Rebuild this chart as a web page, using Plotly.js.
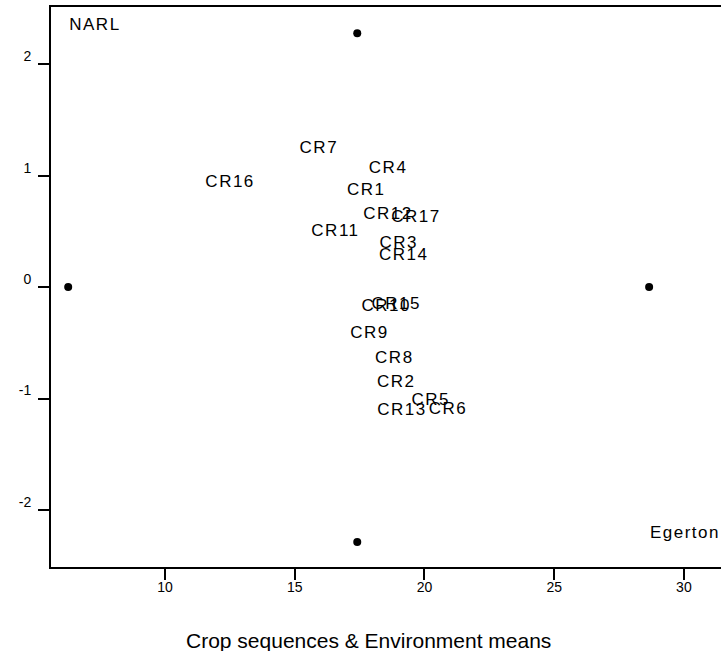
<!DOCTYPE html>
<html>
<head>
<meta charset="utf-8">
<script src="https://cdn.plot.ly/plotly-3.0.1.min.js"></script>
<style>
  html, body { margin: 0; padding: 0; background: #fff; }
  #chart { width: 721px; height: 651px; }
  .js-plotly-plot .textpoint text { letter-spacing: 1.5px; }
</style>
</head>
<body>
<div id="chart"></div>
<script>
// Crop sequence labels and their biplot positions
const cropLabels = ["CR1","CR2","CR3","CR4","CR5","CR6","CR7","CR8","CR9","CR10","CR11","CR12","CR13","CR14","CR15","CR16","CR17"];
const cropX = [17.76, 18.91, 19.01, 18.60, 20.24, 20.91, 15.93, 18.84, 17.88, 18.53, 16.57, 18.59, 19.13, 19.20, 18.91, 12.51, 19.67];
const cropY = [0.861, -0.860, 0.390, 1.064, -1.019, -1.100, 1.241, -0.645, -0.420, -0.175, 0.496, 0.648, -1.111, 0.286, -0.154, 0.935, 0.621];

// Environment labels
const envLabels = ["NARL", "Egerton"];
const envX = [7.30, 30.04];
const envY = [2.35, -2.215];

// Marker points
const dotX = [17.41, 17.41, 6.27, 28.66];
const dotY = [2.278, -2.287, 0.0, 0.0];

// Axis ticks
const xTicks = [10, 15, 20, 25, 30];
const yTicks = [-2, -1, 0, 1, 2];

const FONT = "Liberation Sans, Arial, sans-serif";

const traces = [
  {
    x: dotX, y: dotY, mode: "markers", type: "scatter",
    marker: { color: "#000", size: 8, symbol: "circle" },
    hoverinfo: "skip", showlegend: false, cliponaxis: false
  },
  {
    x: cropX, y: cropY, text: cropLabels, mode: "text", type: "scatter",
    textposition: "middle center",
    textfont: { family: FONT, size: 17, color: "#000" },
    showlegend: false, cliponaxis: false
  },
  {
    x: envX, y: envY, text: envLabels, mode: "text", type: "scatter",
    textposition: "middle center",
    textfont: { family: FONT, size: 17, color: "#000" },
    showlegend: false, cliponaxis: false
  }
];

const layout = {
  width: 721, height: 651,
  margin: { l: 51, r: 0, t: 7, b: 84, pad: 0 },
  paper_bgcolor: "#fff", plot_bgcolor: "#fff",
  font: { family: FONT, color: "#000" },
  showlegend: false,
  xaxis: {
    range: [5.607, 31.43], tickvals: xTicks, ticktext: xTicks.map(String),
    showgrid: false, zeroline: false,
    showline: true, linecolor: "#000", linewidth: 2, mirror: true,
    ticks: "outside", ticklen: 11, tickwidth: 2, tickcolor: "#000",
    tickfont: { family: FONT, size: 14, color: "#000" },
    ticklabelstandoff: -5,
    fixedrange: true
  },
  yaxis: {
    range: [-2.512, 2.514], tickvals: yTicks, ticktext: yTicks.map(String),
    showgrid: false, zeroline: false,
    showline: true, linecolor: "#000", linewidth: 2,
    ticks: "outside", ticklen: 11, tickwidth: 2, tickcolor: "#000",
    tickfont: { family: FONT, size: 14, color: "#000" },
    ticklabelshift: -8, ticklabelstandoff: 4,
    fixedrange: true
  },
  annotations: [
    {
      text: "Crop sequences & Environment means",
      xref: "paper", yref: "paper", x: 0.4746, y: -0.131,
      xanchor: "center", yanchor: "middle", showarrow: false,
      font: { family: FONT, size: 21, color: "#000" }
    }
  ]
};

Plotly.newPlot("chart", traces, layout, { displayModeBar: false, staticPlot: true });
</script>
</body>
</html>
